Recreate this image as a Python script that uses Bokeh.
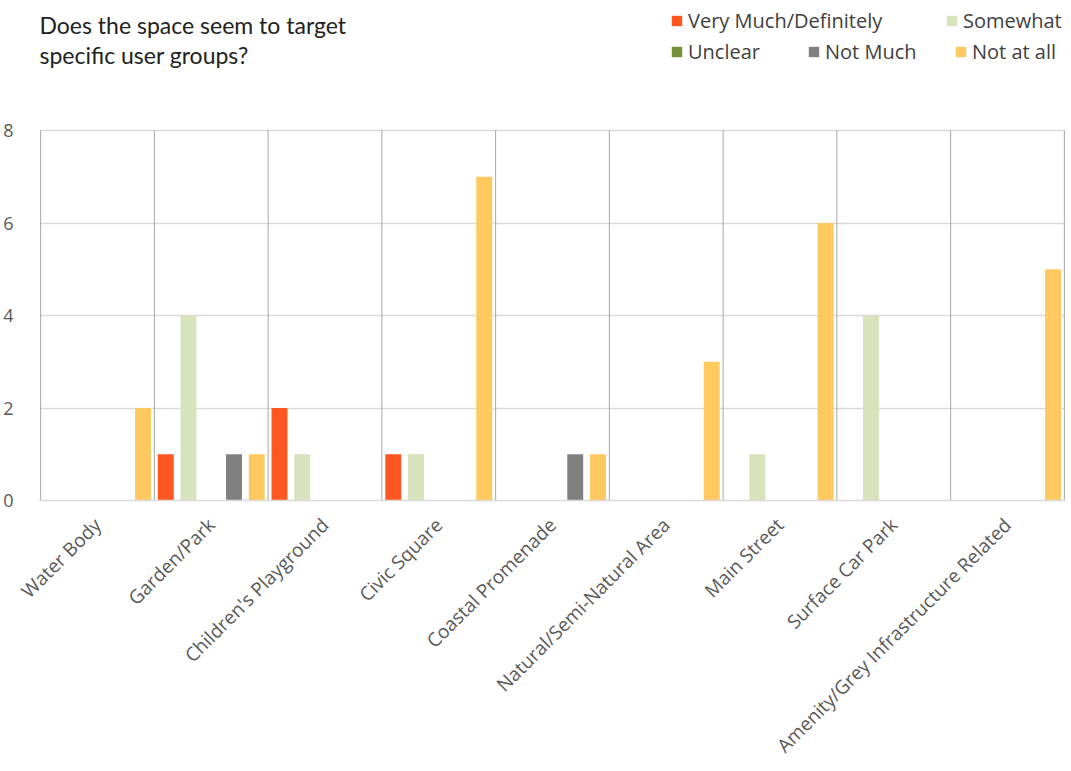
import math
from bokeh.plotting import figure
from bokeh.models import Range1d, FixedTicker, Legend, LegendItem, Label, ColumnDataSource
from bokeh.transform import dodge
from bokeh.embed import file_html
from bokeh.resources import INLINE

# ---- data ----
categories = ["Water Body", "Garden/Park", "Children's Playground", "Civic Square",
              "Coastal Promenade", "Natural/Semi-Natural Area", "Main Street",
              "Surface Car Park", "Amenity/Grey Infrastructure Related"]
series_names = ["Very Much/Definitely", "Somewhat", "Unclear", "Not Much", "Not at all"]
very_much = [0, 1, 2, 1, 0, 0, 0, 0, 0]
somewhat = [0, 4, 1, 1, 0, 0, 1, 4, 0]
unclear = [0, 0, 0, 0, 0, 0, 0, 0, 0]
not_much = [0, 1, 0, 0, 1, 0, 0, 0, 0]
not_at_all = [2, 1, 0, 7, 1, 3, 6, 0, 5]
y_ticks = [0, 2, 4, 6, 8]
title_lines = ["Does the space seem to target", "specific user groups?"]

colors = ["#FF5722", "#D7E3BC", "#72913A", "#808080", "#FFC960"]
series_values = [very_much, somewhat, unclear, not_much, not_at_all]

n = len(categories)
centers = [i + 0.5 for i in range(n)]
boundaries = list(range(n + 1))
data = {"x": centers}
keys = ["s%d" % k for k in range(len(series_names))]
for k, vals in zip(keys, series_values):
    data[k] = vals
source = ColumnDataSource(data)

FONT = "Open Sans"
TXT = "#595959"

# layout (pixels): bar area is 370 px tall; extra room above it holds title + legend
W, H = 1071, 771
BAR_H = 370
FRAME_H = 500
y_top = y_ticks[-1] * FRAME_H / BAR_H

p = figure(width=W, height=H, x_range=Range1d(-0.01, n + 0.01),
           y_range=Range1d(0, y_top), title_location=None,
           output_backend="svg", toolbar_location=None,
           min_border_left=37, min_border_right=6, min_border_top=0,
           min_border_bottom=H - FRAME_H)
p.outline_line_color = None
p.background_fill_color = "white"

# category separators (vertical lines spanning the value axis)
p.segment(x0=boundaries, y0=[y_ticks[0]] * len(boundaries), x1=boundaries,
          y1=[y_ticks[-1]] * len(boundaries), line_color="#A6A6A6", line_width=1)

offsets = [-0.4, -0.2, 0.0, 0.2, 0.4]
renderers = []
for k, off, col in zip(keys, offsets, colors):
    r = p.vbar(x=dodge("x", off), top=k, width=0.14, source=source,
               fill_color=col, line_color=None)
    renderers.append(r)

# axes
p.xaxis.ticker = FixedTicker(ticks=centers)
p.xaxis.major_label_overrides = {c: lab for c, lab in zip(centers, categories)}
p.xaxis.major_label_orientation = math.pi / 4
p.xaxis.major_label_text_font = FONT
p.xaxis.major_label_text_font_size = "19px"
p.xaxis.major_label_text_color = TXT
p.xaxis.major_label_standoff = 15
p.xaxis.axis_line_color = "#D9D9D9"
p.xaxis.axis_line_width = 1.5
p.xaxis.major_tick_line_color = None
p.xaxis.minor_tick_line_color = None

p.yaxis.ticker = FixedTicker(ticks=y_ticks)
p.yaxis.major_label_text_font = FONT
p.yaxis.major_label_text_font_size = "18px"
p.yaxis.major_label_text_color = TXT
p.yaxis.major_label_standoff = 20
p.yaxis.axis_line_color = None
p.yaxis.major_tick_line_color = None
p.yaxis.minor_tick_line_color = None

p.ygrid.ticker = FixedTicker(ticks=y_ticks)
p.ygrid.grid_line_color = "#D9D9D9"
p.ygrid.grid_line_width = 1.5
p.xgrid.grid_line_color = None

# title (two lines), positioned in px from the bottom-left of the frame
p.add_layout(Label(x=0, y=FRAME_H - 24, x_units="screen", y_units="screen",
                   text=title_lines[0], text_font="Lato", text_font_size="23px",
                   text_color="#222222", text_baseline="alphabetic"))
p.add_layout(Label(x=0, y=FRAME_H - 54, x_units="screen", y_units="screen",
                   text=title_lines[1], text_font="Lato", text_font_size="23px",
                   text_color="#222222", text_baseline="alphabetic"))

# legend: one legend per item so each sits where the original puts it
leg_pos = [(631, FRAME_H - 35), (906, FRAME_H - 35), (631, FRAME_H - 66),
           (768, FRAME_H - 66), (915, FRAME_H - 66)]
for name, r, pos in zip(series_names, renderers, leg_pos):
    lg = Legend(items=[LegendItem(label=name, renderers=[r])], location=pos,
                orientation="horizontal", padding=0, margin=0, spacing=0,
                glyph_width=13, glyph_height=13, label_height=30, label_standoff=5,
                label_text_font=FONT, label_text_font_size="20px",
                label_text_color="#404040", border_line_color=None,
                background_fill_alpha=0)
    p.add_layout(lg)

open("out.html", "w").write(file_html(p, INLINE))
